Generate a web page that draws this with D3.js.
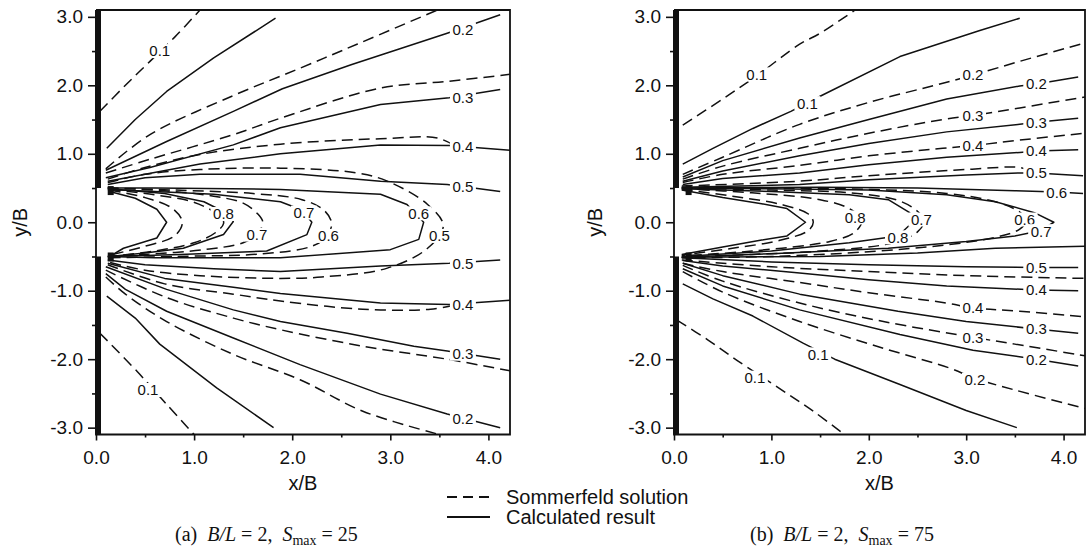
<!DOCTYPE html>
<html>
<head>
<meta charset="utf-8">
<script src="https://cdn.jsdelivr.net/npm/d3@7"></script>
<style>
  body { margin: 0; background: #fff; }
  svg text { font-family: "Liberation Sans", Arial, sans-serif; fill: #111; }
  .cap { font-family: "Liberation Serif", "Times New Roman", serif; white-space: pre; }
</style>
</head>
<body>
<svg id="chart"></svg>
<script>
// tick values
const xTicks = [0, 1, 2, 3, 4];
const xMinor = [0.5, 1.5, 2.5, 3.5];
const yTicks = [-3, -2, -1, 0, 1, 2, 3];
const yMinor = [-2.5, -1.5, -0.5, 0.5, 1.5, 2.5];

// (a) B/L = 2, Smax = 25 : Sommerfeld solution (dashed)
const aSommerfeld = [
  [[0.04,1.62],[0.3,2.0],[0.55,2.35],[0.8,2.7],[1.06,3.1]],
  [[0.04,-1.62],[0.42,-2.18],[0.72,-2.66],[1.0,-3.1]],
  [[0.1,0.78],[0.55,1.28],[1.4,1.85],[2.08,2.25],[2.66,2.6],[3.48,3.1]],
  [[0.1,-0.8],[0.3,-1.05],[0.72,-1.45],[1.4,-1.93],[2.08,-2.3],[2.72,-2.76],[3.5,-3.1]],
  [[0.1,0.72],[0.55,0.92],[1.4,1.28],[1.88,1.52],[2.9,1.96],[3.6,2.06],[4.22,2.16]],
  [[0.1,-0.7],[0.72,-1.1],[1.4,-1.4],[1.88,-1.57],[2.72,-1.81],[3.58,-2.0],[4.22,-2.17]],
  [[0.12,0.63],[0.5,0.8],[1.06,0.99],[1.88,1.14],[2.9,1.22],[3.48,1.23],[3.68,1.1]],
  [[0.12,-0.62],[0.7,-0.9],[1.4,-1.05],[1.88,-1.15],[2.72,-1.27],[3.41,-1.27],[3.68,-1.2]],
  [[0.12,0.58],[0.5,0.7],[1.06,0.77],[1.88,0.79],[2.66,0.72],[2.97,0.6],[3.38,0.26],[3.54,-0.05],[3.38,-0.38],[2.97,-0.67],[2.3,-0.8],[1.88,-0.82],[1.06,-0.78],[0.5,-0.7],[0.12,-0.58]],
  [[0.12,0.5],[0.8,0.47],[1.6,0.42],[2.1,0.33],[2.32,0.18],[2.4,0.0],[2.36,-0.2],[2.2,-0.35],[1.7,-0.46],[0.8,-0.5],[0.12,-0.52]],
  [[0.12,0.5],[0.7,0.46],[1.2,0.38],[1.5,0.28],[1.65,0.12],[1.7,0.0],[1.64,-0.18],[1.5,-0.3],[1.1,-0.4],[0.5,-0.47],[0.12,-0.5]],
  [[0.14,0.48],[0.6,0.4],[0.96,0.31],[1.16,0.19],[1.28,0.08],[1.3,-0.02],[1.22,-0.15],[1.0,-0.3],[0.6,-0.42],[0.14,-0.5]],
  [[0.14,0.47],[0.5,0.36],[0.78,0.2],[0.88,0.0],[0.8,-0.2],[0.5,-0.35],[0.14,-0.48]]
];

// (a) calculated result (solid)
const aCalculated = [
  [[0.11,1.08],[0.4,1.5],[0.72,1.91],[1.2,2.4],[1.83,2.98]],
  [[0.11,-1.08],[0.4,-1.4],[0.65,-1.78],[1.23,-2.42],[1.81,-3.0]],
  [[0.1,0.76],[0.72,1.18],[1.4,1.62],[1.9,1.95],[2.6,2.3],[3.58,2.76],[4.12,3.03]],
  [[0.1,-0.75],[0.3,-0.98],[0.72,-1.3],[1.4,-1.69],[2.08,-2.08],[2.9,-2.51],[3.58,-2.8],[4.12,-3.0]],
  [[0.1,0.65],[0.55,0.8],[1.4,1.13],[1.88,1.38],[2.9,1.72],[3.6,1.82],[4.12,1.94]],
  [[0.1,-0.65],[0.72,-0.98],[1.4,-1.28],[1.88,-1.45],[2.56,-1.62],[3.24,-1.81],[3.58,-1.88],[4.12,-2.0]],
  [[0.12,0.6],[0.5,0.7],[1.06,0.85],[1.88,1.0],[2.9,1.13],[3.6,1.12],[4.22,1.05]],
  [[0.12,-0.6],[0.7,-0.82],[1.4,-0.95],[1.88,-1.04],[2.9,-1.18],[3.6,-1.2],[4.22,-1.14]],
  [[0.12,0.55],[0.5,0.65],[1.06,0.7],[2.08,0.7],[2.9,0.6],[3.58,0.55],[4.12,0.45]],
  [[0.12,-0.55],[0.5,-0.62],[1.2,-0.68],[1.88,-0.72],[2.9,-0.64],[3.6,-0.6],[4.12,-0.55]],
  [[0.12,0.5],[0.6,0.5],[1.88,0.48],[2.9,0.41],[3.17,0.26],[3.34,0.0],[3.29,-0.25],[3.0,-0.4],[1.88,-0.52],[0.6,-0.52],[0.12,-0.5]],
  [[0.12,0.48],[0.6,0.45],[1.2,0.41],[1.88,0.3],[2.1,0.18],[2.2,0.0],[2.15,-0.18],[1.74,-0.42],[0.86,-0.47],[0.12,-0.5]],
  [[0.14,0.49],[0.7,0.42],[1.1,0.3],[1.35,0.12],[1.4,0.01],[1.3,-0.18],[0.89,-0.38],[0.5,-0.45],[0.14,-0.5]],
  [[0.14,0.45],[0.4,0.35],[0.62,0.19],[0.72,0.0],[0.62,-0.23],[0.28,-0.38],[0.14,-0.5]]
];

const aLabels = [
  [0.65,2.5,"0.1"],[3.74,2.82,"0.2"],[3.74,1.82,"0.3"],[3.74,1.1,"0.4"],[3.74,0.52,"0.5"],
  [1.3,0.12,"0.8"],[2.12,0.14,"0.7"],[1.64,-0.18,"0.7"],[3.29,0.13,"0.6"],[2.37,-0.2,"0.6"],
  [3.5,-0.2,"0.5"],[3.74,-0.6,"0.5"],[3.74,-1.2,"0.4"],[3.74,-1.92,"0.3"],[3.74,-2.87,"0.2"],
  [0.53,-2.45,"0.1"]
];

// (b) B/L = 2, Smax = 75 : Sommerfeld solution (dashed)
const bSommerfeld = [
  [[0.09,1.42],[0.5,1.8],[0.85,2.14],[1.29,2.6],[1.5,2.76],[1.86,3.1]],
  [[0.03,-1.43],[0.35,-1.72],[0.65,-2.02],[1.16,-2.5],[1.45,-2.78],[1.75,-3.1]],
  [[0.09,0.7],[0.5,0.95],[1.29,1.43],[2.0,1.75],[2.76,2.03],[3.07,2.15],[3.55,2.35],[4.22,2.62]],
  [[0.09,-0.72],[0.5,-1.02],[1.29,-1.45],[2.15,-1.84],[2.83,-2.13],[3.09,-2.28],[3.5,-2.45],[4.22,-2.72]],
  [[0.09,0.63],[0.5,0.82],[1.29,1.08],[2.0,1.3],[2.76,1.5],[3.07,1.56],[3.55,1.67],[4.22,1.83]],
  [[0.09,-0.63],[0.5,-0.86],[1.29,-1.18],[2.15,-1.45],[3.07,-1.68],[3.5,-1.78],[4.22,-1.95]],
  [[0.09,0.58],[0.5,0.7],[1.29,0.83],[2.0,0.97],[2.76,1.08],[3.07,1.12],[3.55,1.2],[4.22,1.3]],
  [[0.09,-0.6],[0.5,-0.72],[1.29,-0.88],[2.0,-1.03],[2.8,-1.18],[3.07,-1.25],[3.55,-1.3],[4.22,-1.38]],
  [[0.08,0.53],[1.29,0.6],[2.0,0.68],[3.0,0.77],[3.55,0.8],[3.68,0.74]],
  [[0.08,-0.55],[1.0,-0.65],[2.0,-0.72],[3.0,-0.78],[4.22,-0.82]],
  [[0.08,0.51],[1.0,0.5],[2.0,0.48],[2.8,0.42],[3.3,0.3],[3.55,0.15],[3.62,0.03],[3.55,-0.1],[3.3,-0.22],[2.8,-0.33],[2.0,-0.43],[1.0,-0.5],[0.08,-0.52]],
  [[0.08,0.5],[1.0,0.47],[1.8,0.43],[2.3,0.32],[2.5,0.16],[2.57,0.02],[2.5,-0.14],[2.25,-0.3],[1.5,-0.42],[0.8,-0.47],[0.08,-0.51]],
  [[0.08,0.49],[0.8,0.43],[1.5,0.33],[1.8,0.2],[1.93,0.04],[1.86,-0.14],[1.6,-0.28],[0.8,-0.42],[0.08,-0.49]],
  [[0.08,0.48],[0.6,0.38],[1.1,0.26],[1.38,0.12],[1.43,0.0],[1.38,-0.12],[1.1,-0.26],[0.6,-0.38],[0.08,-0.48]]
];

// (b) calculated result (solid)
const bCalculated = [
  [[0.09,0.85],[0.4,1.08],[0.81,1.37],[1.2,1.62],[1.5,1.84],[2.32,2.42],[3.14,2.8],[3.55,2.98]],
  [[0.09,-0.9],[0.4,-1.12],[0.81,-1.37],[1.33,-1.77],[1.65,-2.0],[2.32,-2.37],[3.0,-2.75],[3.52,-3.0]],
  [[0.09,0.66],[0.5,0.9],[1.29,1.23],[2.0,1.5],[2.8,1.8],[3.55,1.99],[3.72,2.02],[4.15,2.12]],
  [[0.09,-0.68],[0.5,-0.93],[1.29,-1.28],[2.32,-1.64],[3.07,-1.87],[3.72,-2.0],[4.15,-2.1]],
  [[0.09,0.6],[0.5,0.75],[1.29,0.97],[2.0,1.15],[2.8,1.32],[3.55,1.43],[3.72,1.46],[4.15,1.52]],
  [[0.09,-0.6],[0.5,-0.78],[1.29,-1.05],[2.3,-1.3],[3.0,-1.45],[3.72,-1.56],[4.15,-1.62]],
  [[0.09,0.55],[0.5,0.64],[1.29,0.72],[2.0,0.84],[2.8,0.95],[3.55,1.02],[3.72,1.04],[4.15,1.06]],
  [[0.09,-0.56],[0.5,-0.64],[1.29,-0.74],[2.0,-0.84],[2.8,-0.93],[3.72,-0.99],[4.15,-1.0]],
  [[0.08,0.51],[1.29,0.55],[2.0,0.62],[3.0,0.69],[3.55,0.72],[3.72,0.72],[4.2,0.68]],
  [[0.08,-0.52],[1.0,-0.58],[2.0,-0.62],[3.0,-0.65],[3.72,-0.66],[4.15,-0.66]],
  [[0.08,0.5],[1.5,0.51],[2.5,0.5],[3.5,0.46],[3.93,0.44],[4.2,0.42]],
  [[0.08,-0.51],[1.5,-0.5],[2.5,-0.45],[3.3,-0.38],[4.22,-0.35]],
  [[0.08,0.5],[1.0,0.49],[2.0,0.47],[2.8,0.4],[3.3,0.3],[3.7,0.14],[3.9,0.0],[3.77,-0.12],[3.5,-0.2],[3.0,-0.28],[2.2,-0.38],[1.0,-0.46],[0.08,-0.51]],
  [[0.08,0.49],[1.0,0.45],[1.8,0.4],[2.2,0.33],[2.42,0.14],[2.45,0.0],[2.3,-0.2],[1.8,-0.3],[1.0,-0.42],[0.08,-0.5]],
  [[0.08,0.47],[0.5,0.36],[0.9,0.27],[1.16,0.2],[1.35,0.0],[1.16,-0.2],[0.9,-0.26],[0.5,-0.36],[0.08,-0.47]]
];

const bLabels = [
  [0.85,2.16,"0.1"],[1.37,1.74,"0.1"],[3.07,2.15,"0.2"],[3.07,1.56,"0.3"],[3.07,1.12,"0.4"],
  [3.72,2.02,"0.2"],[3.72,1.46,"0.3"],[3.72,1.04,"0.4"],[3.72,0.72,"0.5"],[3.93,0.44,"0.6"],
  [1.86,0.07,"0.8"],[2.54,0.04,"0.7"],[2.3,-0.22,"0.8"],[3.6,0.04,"0.6"],[3.77,-0.13,"0.7"],
  [3.72,-0.66,"0.5"],[3.72,-0.99,"0.4"],[3.72,-1.56,"0.3"],[3.72,-2.0,"0.2"],
  [3.07,-1.25,"0.4"],[3.07,-1.68,"0.3"],[3.09,-2.3,"0.2"],[1.48,-1.93,"0.1"],[0.83,-2.27,"0.1"]
];

// breakwater tips where the contours bunch up
const wallTips = [[0.15, 0.47], [0.15, -0.5]];

const width = 1091, height = 554;
const plotTop = 10, plotBottom = 434.5;

const svg = d3.select("#chart").attr("width", width).attr("height", height);
svg.append("rect").attr("width", width).attr("height", height).attr("fill", "#fff");

const panels = [
  { id: "a", left: 96, right: 510, somm: aSommerfeld, calc: aCalculated, labels: aLabels,
    cap: ["(a)  ", "25"], capX: 175, yTitleX: 20 },
  { id: "b", left: 674, right: 1085, somm: bSommerfeld, calc: bCalculated, labels: bLabels,
    cap: ["(b)  ", "75"], capX: 750, yTitleX: 595 }
];

const fmt = (d) => d.toFixed(1);

panels.forEach((p) => {
  const x = d3.scaleLinear().domain([0, 4.22]).range([p.left, p.right]);
  const y = d3.scaleLinear().domain([-3.1, 3.1]).range([plotBottom, plotTop]);
  const g = svg.append("g");

  g.append("clipPath").attr("id", "clip-" + p.id)
    .append("rect")
    .attr("x", p.left).attr("y", plotTop)
    .attr("width", p.right - p.left).attr("height", plotBottom - plotTop);

  const smooth = d3.line().x((d) => x(d[0])).y((d) => y(d[1])).curve(d3.curveCatmullRom.alpha(0.5));
  const straight = d3.line().x((d) => x(d[0])).y((d) => y(d[1]));

  const plot = g.append("g").attr("clip-path", `url(#clip-${p.id})`);

  plot.selectAll(".somm")
    .data(p.somm)
    .enter()
    .append("path")
    .attr("class", "somm")
    .attr("d", smooth)
    .attr("fill", "none")
    .attr("stroke", "#111")
    .attr("stroke-width", 1.5)
    .attr("stroke-dasharray", "11,6");

  plot.selectAll(".calc")
    .data(p.calc)
    .enter()
    .append("path")
    .attr("class", "calc")
    .attr("d", straight)
    .attr("fill", "none")
    .attr("stroke", "#111")
    .attr("stroke-width", 1.5)
    .attr("stroke-linejoin", "round");

  plot.selectAll(".tip")
    .data(wallTips)
    .enter()
    .append("rect")
    .attr("x", (d) => x(d[0]) - 3)
    .attr("y", (d) => y(d[1]) - 4)
    .attr("width", 6)
    .attr("height", 9)
    .attr("fill", "#111");

  // contour labels sit in a small white gap cut out of the line
  const lab = plot.selectAll(".lab")
    .data(p.labels)
    .enter()
    .append("g")
    .attr("class", "lab")
    .attr("transform", (d) => `translate(${x(d[0])},${y(d[1])})`);
  lab.append("rect")
    .attr("x", -13).attr("y", -7)
    .attr("width", 26).attr("height", 14)
    .attr("fill", "#fff");
  lab.append("text")
    .attr("text-anchor", "middle")
    .attr("dy", "0.36em")
    .attr("font-size", 15)
    .text((d) => d[2]);

  // frame
  g.append("path")
    .attr("d", `M${p.left},${plotTop}H${p.right}V${plotBottom}H${p.left}V${plotTop}`)
    .attr("fill", "none")
    .attr("stroke", "#111")
    .attr("stroke-width", 1.8);

  // the thick wall on the left, open between -0.5 and 0.5
  g.selectAll(".wall")
    .data([[0.5, 3.1], [-3.1, -0.5]])
    .enter()
    .append("rect")
    .attr("x", x(0) - 1)
    .attr("y", (d) => y(d[1]))
    .attr("width", 6)
    .attr("height", (d) => y(d[0]) - y(d[1]))
    .attr("fill", "#111");

  // axes
  const xAxis = g.append("g")
    .attr("transform", `translate(0,${plotBottom})`)
    .call(d3.axisBottom(x).tickValues(xTicks).tickFormat(fmt).tickSize(6).tickPadding(10));
  g.append("g")
    .attr("transform", `translate(0,${plotBottom})`)
    .call(d3.axisBottom(x).tickValues(xMinor).tickFormat("").tickSize(3));
  const yAxis = g.append("g")
    .attr("transform", `translate(${p.left},0)`)
    .call(d3.axisLeft(y).tickValues(yTicks).tickFormat(fmt).tickSize(8).tickPadding(5));
  g.append("g")
    .attr("transform", `translate(${p.left},0)`)
    .call(d3.axisLeft(y).tickValues(yMinor).tickFormat("").tickSize(4));

  g.selectAll(".domain").remove();
  g.selectAll(".tick line").attr("stroke", "#111").attr("stroke-width", 1.6);
  [xAxis, yAxis].forEach((ax) => ax.selectAll("text")
    .attr("font-size", 19).attr("fill", "#111")
    .attr("font-family", '"Liberation Sans", Arial, sans-serif'));

  // axis titles
  g.append("text")
    .attr("x", (p.left + p.right) / 2)
    .attr("y", 490)
    .attr("text-anchor", "middle")
    .attr("font-size", 20)
    .text("x/B");
  g.append("text")
    .attr("transform", `translate(${p.yTitleX},${y(0)}) rotate(-90)`)
    .attr("text-anchor", "middle")
    .attr("dominant-baseline", "central")
    .attr("font-size", 20)
    .text("y/B");

  // caption
  const cap = g.append("text")
    .attr("class", "cap")
    .attr("x", p.capX)
    .attr("y", 541)
    .attr("font-size", 20);
  cap.append("tspan").text(p.cap[0]);
  cap.append("tspan").attr("font-style", "italic").text("B/L");
  cap.append("tspan").text(" = 2,  ");
  cap.append("tspan").attr("font-style", "italic").text("S");
  cap.append("tspan").attr("font-size", 14).attr("dy", 4).text("max");
  cap.append("tspan").attr("dy", -4).text(" = " + p.cap[1]);
});

// legend
const legend = svg.append("g");
const legendItems = [
  { name: "Sommerfeld solution", dash: "10,6", y: 497 },
  { name: "Calculated result", dash: null, y: 517 }
];
legend.selectAll("line")
  .data(legendItems)
  .enter()
  .append("line")
  .attr("x1", 447).attr("x2", 490)
  .attr("y1", (d) => d.y).attr("y2", (d) => d.y)
  .attr("stroke", "#111")
  .attr("stroke-width", 2)
  .attr("stroke-dasharray", (d) => d.dash);
legend.selectAll("text")
  .data(legendItems)
  .enter()
  .append("text")
  .attr("x", 506)
  .attr("y", (d) => d.y + 7)
  .attr("font-size", 20)
  .text((d) => d.name);
</script>
</body>
</html>
